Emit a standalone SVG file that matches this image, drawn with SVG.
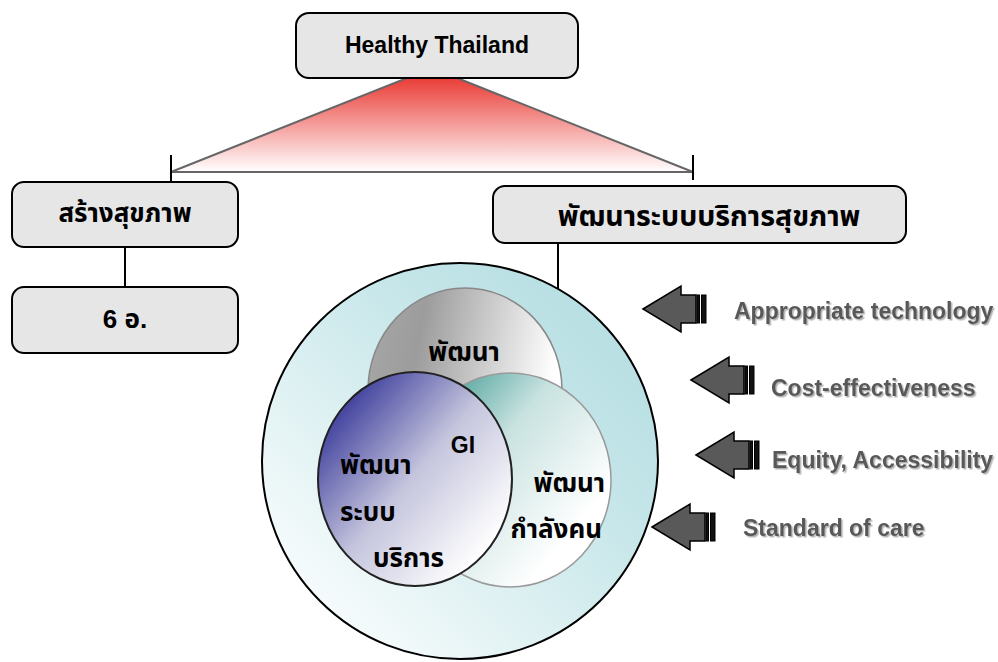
<svg xmlns="http://www.w3.org/2000/svg" xmlns:xlink="http://www.w3.org/1999/xlink" width="998" height="662" viewBox="0 0 998 662">
<style>
.box{fill:#e6e6e6;stroke:#000;stroke-width:2}
.en{font-family:"Liberation Sans",Arial,sans-serif;font-weight:bold;font-size:23px;fill:#000}
.th{font-family:"Liberation Sans","Noto Sans Thai","Loma","Tlwg Typo","Garuda",sans-serif;font-weight:bold;font-size:26px;fill:#000}
.thl{font-family:"Liberation Sans","Noto Sans Thai","Loma","Tlwg Typo","Garuda",sans-serif;font-weight:bold;font-size:28.5px;fill:#000}
.lbl{font-family:"Liberation Sans",Arial,sans-serif;font-weight:bold;font-size:23px;fill:#595959;filter:url(#sh)}
.conn{stroke:#000;stroke-width:2;fill:none}
.arr{fill:#595959;stroke:#000;stroke-width:1.5;stroke-linejoin:miter}
.stripe{fill:#111;stroke:#000;stroke-width:1}
</style>
<defs>
<filter id="sh" x="-10%" y="-30%" width="120%" height="160%">
<feDropShadow dx="1.5" dy="1.5" stdDeviation="0.6" flood-color="#000" flood-opacity="0.3"/>
</filter>
<linearGradient id="gTri" gradientUnits="userSpaceOnUse" x1="0" y1="72" x2="0" y2="172">
<stop offset="0" stop-color="#e8302a"/><stop offset="1" stop-color="#ffffff"/>
</linearGradient>
<linearGradient id="gBig" x1="1" y1="0.1" x2="0.1" y2="1">
<stop offset="0" stop-color="#b2dce1"/><stop offset="0.35" stop-color="#c6e6e9"/><stop offset="1" stop-color="#ffffff"/>
</linearGradient>
<linearGradient id="gGray" x1="0" y1="0" x2="1" y2="0.2">
<stop offset="0" stop-color="#a8a8a8"/><stop offset="0.3" stop-color="#9c9c9c"/><stop offset="1" stop-color="#ffffff"/>
</linearGradient>
<linearGradient id="gTeal" x1="0.1" y1="0.05" x2="0.85" y2="0.7">
<stop offset="0" stop-color="#3f9a92"/><stop offset="0.45" stop-color="#c8e2e0"/><stop offset="1" stop-color="#ffffff"/>
</linearGradient>
<linearGradient id="gBlue" x1="0.1" y1="0.15" x2="0.85" y2="0.85">
<stop offset="0" stop-color="#3c3c9c"/><stop offset="0.5" stop-color="#c4c4dd"/><stop offset="1" stop-color="#ffffff"/>
</linearGradient>
<g id="arrow">
<path class="arr" d="M0,0 L38,-23 L38,-14 L53,-14 L53,14 L38,14 L38,23 Z"/>
<rect class="stripe" x="54" y="-14" width="2.5" height="28"/>
<rect class="stripe" x="58.5" y="-14" width="4.5" height="28"/>
</g>
</defs>
<rect width="998" height="662" fill="#ffffff"/>

<g id="connectors">
<path d="M432,68 L693,172 L171,172 Z" fill="url(#gTri)" stroke="#666" stroke-width="2"/>
<line class="conn" x1="171" y1="155" x2="171" y2="182"/>
<line class="conn" x1="693" y1="155" x2="693" y2="180"/>
<line class="conn" x1="125" y1="247" x2="125" y2="287"/>
<line class="conn" x1="558" y1="243" x2="558" y2="289"/>
</g>

<g id="node-healthy-thailand">
<rect class="box" x="296" y="13" width="282" height="65" rx="13"/>
<text class="en" x="437" y="53" text-anchor="middle">Healthy Thailand</text>
</g>

<g id="node-sang-sukkhaphap">
<rect class="box" x="12" y="182" width="226" height="65" rx="12"/>
<text class="th" x="125" y="222" text-anchor="middle">สร้างสุขภาพ</text>
</g>

<g id="node-6o">
<rect class="box" x="12" y="287" width="226" height="66" rx="12"/>
<text class="th" x="125" y="328" text-anchor="middle">6 อ.</text>
</g>

<g id="node-phatthana-borikan">
<rect class="box" x="493" y="186" width="413" height="57" rx="12"/>
<text class="thl" x="709" y="226" text-anchor="middle">พัฒนาระบบบริการสุขภาพ</text>
</g>

<g id="node-venn">
<circle cx="460" cy="461" r="198" fill="url(#gBig)" stroke="#000" stroke-width="2"/>
<ellipse cx="465" cy="390" rx="97" ry="102" fill="url(#gGray)" stroke="#888" stroke-width="1.5"/>
<ellipse cx="510" cy="480" rx="101" ry="107" fill="url(#gTeal)" stroke="#999" stroke-width="1.5"/>
<ellipse cx="415" cy="479" rx="97" ry="107" fill="url(#gBlue)" stroke="#222" stroke-width="2"/>
<text class="th" x="464" y="361" text-anchor="middle">พัฒนา</text>
<text class="en" x="463" y="453" text-anchor="middle">GI</text>
<text class="th" x="340" y="474">พัฒนา</text>
<text class="th" x="340" y="521">ระบบ</text>
<text class="th" x="373" y="567">บริการ</text>
<text class="th" x="605" y="492" text-anchor="end">พัฒนา</text>
<text class="th" x="602" y="538" text-anchor="end">กำลังคน</text>
</g>

<g id="node-arrows">
<use xlink:href="#arrow" x="643" y="309"/>
<use xlink:href="#arrow" x="691" y="380"/>
<use xlink:href="#arrow" x="696" y="455"/>
<use xlink:href="#arrow" x="652" y="527"/>
</g>

<g id="node-labels">
<text class="lbl" x="734" y="319">Appropriate technology</text>
<text class="lbl" x="771" y="396">Cost-effectiveness</text>
<text class="lbl" x="772" y="468">Equity, Accessibility</text>
<text class="lbl" x="743" y="536">Standard of care</text>
</g>
</svg>
